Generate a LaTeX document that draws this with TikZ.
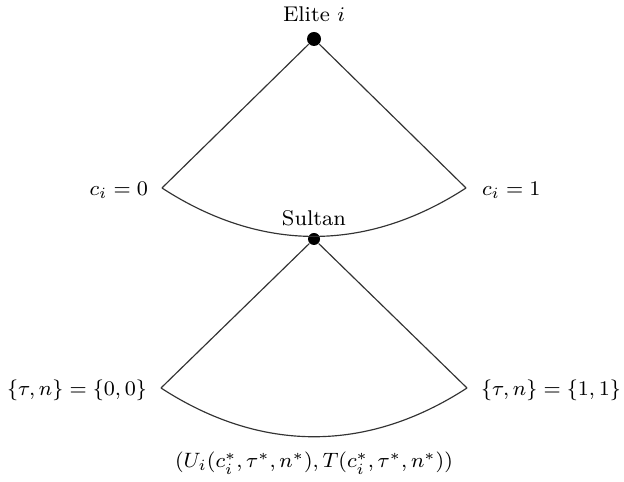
\documentclass[tikz,border=0pt]{standalone}
\usepackage{amsmath}
\usetikzlibrary{positioning}

\begin{document}
\begin{tikzpicture}[x=0.01352cm,y=-0.01352cm,
  player/.style={circle,fill=black,inner sep=0pt,minimum size=#1},
  branch/.style={draw=black!80,line width=0.45pt},
  tag/.style={font=\fontsize{8.2pt}{10pt}\selectfont,inner sep=1pt}]
\useasboundingbox (0,0) rectangle (624,482);
% decision nodes
\node[player=14*0.01352cm] (elite) at (314,39) {};
\node[player=12*0.01352cm] (sultan) at (314,239) {};
\node[tag,above=2.5pt of elite] (elitelbl) {Elite $i$};
\node[tag,above=1.5pt of sultan] (sultanlbl) {Sultan};
% end points of the branches
\coordinate (c0) at (162,188);
\coordinate (c1) at (466,188);
\coordinate (t0) at (161,388);
\coordinate (t1) at (467,388);
\node[tag,anchor=east] (c0lbl) at (151,190) {$c_i=0$};
\node[tag,anchor=west] (c1lbl) at (479,190) {$c_i=1$};
\node[tag,anchor=east] (t0lbl) at (150,390) {$\{\tau,n\}=\{0,0\}$};
\node[tag,anchor=west] (t1lbl) at (478,390) {$\{\tau,n\}=\{1,1\}$};
\node[tag] (payoff) at (314,463) {$(U_i(c_i^*,\tau^*,n^*),T(c_i^*,\tau^*,n^*))$};
% branches
\draw[branch] (elite) -- (c0);
\draw[branch] (elite) -- (c1);
\draw[branch] (c0) to[bend right=33] (c1);
\draw[branch] (sultan) -- (t0);
\draw[branch] (sultan) -- (t1);
\draw[branch] (t0) to[bend right=33] (t1);
\end{tikzpicture}
\end{document}
